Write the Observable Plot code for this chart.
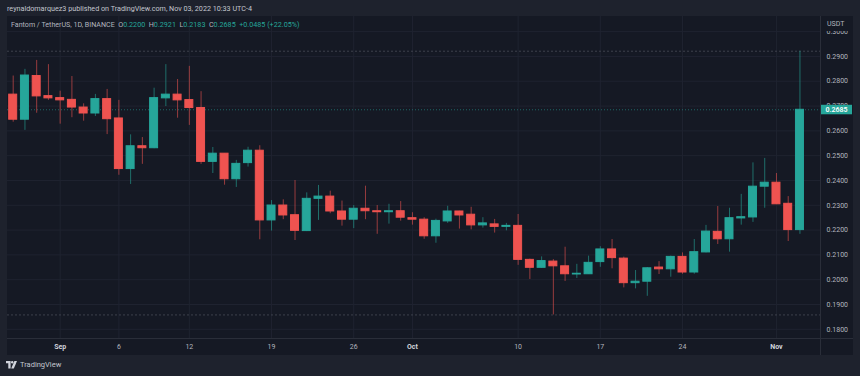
<!DOCTYPE html>
<html><head><meta charset="utf-8">
<script src="https://cdn.jsdelivr.net/npm/d3@7"></script>
<script src="https://cdn.jsdelivr.net/npm/@observablehq/plot@0.6"></script>
<style>
body{margin:0;background:#1e222d;}
#wrap{position:relative;width:860px;height:376px;overflow:hidden;font-family:Roboto,"Noto Sans",sans-serif;}
#pane{position:absolute;left:7px;top:16px;width:846px;height:339px;background:#151924;}
#chart{position:absolute;left:0;top:0;}
#vsep{position:absolute;left:820px;top:16px;width:1px;height:339px;background:#2a2e39;}
#hsep{position:absolute;left:7px;top:338px;width:846px;height:1px;background:#2a2e39;}
#head{position:absolute;left:7px;top:4px;font-size:7.2px;line-height:10px;color:#c3c6ce;white-space:nowrap;}
#legend{position:absolute;left:11px;top:20px;font-size:7.2px;line-height:10px;color:#b2b5be;white-space:nowrap;}
#legend .sym{font-size:7.1px;}
#legend .v{color:#26a69a;}
#legend .g{margin-left:3.5px;}
#usdt{position:absolute;left:821px;top:17px;width:31px;height:14px;background:#151924;font-size:7px;line-height:14px;color:#b2b5be;padding-left:6px;box-sizing:border-box;}
#logo{position:absolute;left:6px;top:360px;height:10px;font-size:7.5px;line-height:10px;color:#c3c6ce;white-space:nowrap;display:flex;align-items:center;}
#logo svg{margin-right:3px;}
</style></head><body>
<div id="wrap">
  <div id="pane"></div>
  <div id="chart"></div>
  <div id="vsep"></div>
  <div id="hsep"></div>
  <div id="head"></div>
  <div id="legend"></div>
  <div id="usdt">USDT</div>
  <div id="logo"><svg width="11" height="8" viewBox="0 0 11 8"><path d="M0 0h4.6v7.6h-2.3v-5.3h-2.3z" fill="#d1d4dc"/><circle cx="6.2" cy="1.2" r="1.2" fill="#d1d4dc"/><path d="M8.4 0h2.6l-3.2 7.6h-2.6z" fill="#d1d4dc"/></svg><span>TradingView</span></div>
</div>
<script>
// ---- data ----
const headerText = "reynaldomarquez3 published on TradingView.com, Nov 03, 2022 10:33 UTC-4";
const symbolText = "Fantom / TetherUS, 1D, BINANCE";
const quoteUnit = "USDT";
const firstDay = "2022-08-28";
const opens  = [0.2746,0.2645,0.2821,0.2740,0.2732,0.2725,0.2694,0.2670,0.2728,0.2650,
                0.2446,0.2538,0.2530,0.2731,0.2746,0.2724,0.2692,0.2475,0.2508,0.2405,
                0.2470,0.2520,0.2239,0.2299,0.2260,0.2196,0.2326,0.2335,0.2275,0.2242,
                0.2286,0.2276,0.2272,0.2276,0.2248,0.2242,0.2175,0.2235,0.2275,0.2262,
                0.2219,0.2223,0.2213,0.2217,0.2080,0.2048,0.2073,0.2054,0.2021,0.2022,
                0.2071,0.2122,0.2085,0.1986,0.1992,0.2049,0.2042,0.2092,0.2029,0.2110,
                0.2193,0.2163,0.2247,0.2251,0.2375,0.2391,0.2306,0.2200];
const highs  = [0.2821,0.2848,0.2884,0.2867,0.2760,0.2819,0.2709,0.2747,0.2767,0.2723,
                0.2584,0.2573,0.2772,0.2867,0.2807,0.2860,0.2758,0.2533,0.2508,0.2481,
                0.2534,0.2540,0.2319,0.2322,0.2400,0.2350,0.2380,0.2357,0.2317,0.2299,
                0.2377,0.2299,0.2304,0.2315,0.2270,0.2250,0.2244,0.2296,0.2276,0.2292,
                0.2250,0.2243,0.2227,0.2263,0.2083,0.2092,0.2081,0.2131,0.2062,0.2095,
                0.2133,0.2162,0.2091,0.2037,0.2049,0.2073,0.2095,0.2108,0.2162,0.2219,
                0.2295,0.2288,0.2344,0.2471,0.2489,0.2428,0.2335,0.2921];
const lows   = [0.2635,0.2602,0.2671,0.2723,0.2627,0.2653,0.2639,0.2658,0.2585,0.2421,
                0.2384,0.2465,0.2528,0.2698,0.2651,0.2622,0.2465,0.2428,0.2381,0.2372,
                0.2454,0.2161,0.2196,0.2242,0.2158,0.2194,0.2239,0.2266,0.2216,0.2206,
                0.2242,0.2183,0.2224,0.2236,0.2220,0.2163,0.2147,0.2227,0.2204,0.2201,
                0.2208,0.2188,0.2197,0.2058,0.2001,0.2046,0.1858,0.1993,0.2005,0.2021,
                0.2050,0.2044,0.1967,0.1963,0.1933,0.2021,0.2010,0.2022,0.2022,0.2108,
                0.2142,0.2111,0.2220,0.2231,0.2288,0.2303,0.2154,0.2183];
const closes = [0.2645,0.2823,0.2739,0.2731,0.2723,0.2694,0.2670,0.2728,0.2647,0.2446,
                0.2538,0.2530,0.2732,0.2746,0.2723,0.2692,0.2475,0.2508,0.2405,0.2467,
                0.2520,0.2239,0.2299,0.2259,0.2197,0.2326,0.2335,0.2275,0.2242,0.2286,
                0.2276,0.2272,0.2276,0.2250,0.2242,0.2175,0.2237,0.2275,0.2259,0.2219,
                0.2227,0.2213,0.2217,0.2080,0.2048,0.2075,0.2054,0.2022,0.2024,0.2068,
                0.2122,0.2087,0.1986,0.1992,0.2046,0.2042,0.2092,0.2029,0.2111,0.2194,
                0.2163,0.2248,0.2252,0.2375,0.2391,0.2304,0.2200,0.2685];
const priceTicks = [0.18,0.19,0.20,0.21,0.22,0.23,0.24,0.25,0.26,0.27,0.28,0.29,0.30];
const timeTicks = ["2022-09-01","2022-09-06","2022-09-12","2022-09-19","2022-09-26","2022-10-01","2022-10-10","2022-10-17","2022-10-24","2022-11-01"];
const timeTickLabels = ["Sep","6","12","19","26","Oct","10","17","24","Nov"];
const monthLabels = ["Sep","Oct","Nov"];

// ---- derived ----
const DAY = 864e5;
const UP = "#26a69a", DOWN = "#ef5350";
const t0 = Date.parse(firstDay + "T00:00:00Z");
const candles = opens.map((o, i) => ({date: new Date(t0 + i * DAY), open: o, high: highs[i], low: lows[i], close: closes[i]}));
const ups = candles.filter(d => d.close >= d.open);
const downs = candles.filter(d => d.close < d.open);
const last = candles[candles.length - 1];
const prevClose = candles[candles.length - 2].close;
const hiVis = d3.max(highs), loVis = d3.min(lows);
const tickDates = timeTicks.map(s => new Date(s + "T00:00:00Z"));
const labelOf = new Map(tickDates.map((d, i) => [+d, timeTickLabels[i]]));
const monthDates = tickDates.filter((d, i) => monthLabels.includes(timeTickLabels[i]));
const dayDates = tickDates.filter((d, i) => !monthLabels.includes(timeTickLabels[i]));
const f4 = d3.format(".4f");

// ---- header / legend ----
document.getElementById("head").textContent = headerText;
const chg = last.close - prevClose;
const pct = chg / prevClose * 100;
document.getElementById("legend").innerHTML =
  `<span class="sym">${symbolText}</span>` +
  `<span class="g">O<span class="v">${f4(last.open)}</span></span>` +
  `<span class="g">H<span class="v">${f4(last.high)}</span></span>` +
  `<span class="g">L<span class="v">${f4(last.low)}</span></span>` +
  `<span class="g">C<span class="v">${f4(last.close)}</span></span>` +
  `<span class="g v">${chg >= 0 ? "+" : ""}${f4(chg)} (${pct >= 0 ? "+" : ""}${pct.toFixed(2)}%)</span>`;

const halfBody = 0.34 * DAY;
const bodyX1 = d => new Date(+d.date - halfBody);
const bodyX2 = d => new Date(+d.date + halfBody);

function priceLabel(index, scales, values, dimensions) {
  const ns = "http://www.w3.org/2000/svg";
  const y = scales.y(last.close);
  const x0 = dimensions.width - dimensions.marginRight + 1;
  const g = document.createElementNS(ns, "g");
  const r = document.createElementNS(ns, "rect");
  r.setAttribute("x", x0); r.setAttribute("y", y - 4.5);
  r.setAttribute("width", 31); r.setAttribute("height", 9.5);
  r.setAttribute("fill", UP);
  const t = document.createElementNS(ns, "text");
  t.setAttribute("x", x0 + 15.5); t.setAttribute("y", y + 2.5);
  t.setAttribute("text-anchor", "middle");
  t.setAttribute("fill", "#ffffff");
  t.setAttribute("font-size", "7px");
  t.setAttribute("font-weight", "600");
  t.textContent = f4(last.close);
  g.appendChild(r); g.appendChild(t);
  return g;
}

const chart = Plot.plot({
  width: 860,
  height: 376,
  marginLeft: 7,
  marginRight: 40,
  marginTop: 16,
  marginBottom: 38,
  style: {background: "transparent", color: "#b2b5be", fontFamily: "Roboto, 'Noto Sans', sans-serif", fontSize: "7px"},
  x: {type: "utc", domain: [new Date(t0 - 0.485 * DAY), new Date(+last.date + 1.75 * DAY)], axis: null},
  y: {domain: [0.1763, 0.3061], axis: null},
  marks: [
    Plot.ruleY(priceTicks, {stroke: "#1f2330"}),
    Plot.ruleX(tickDates, {stroke: "#1f2330"}),
    Plot.ruleY([hiVis, loVis], {stroke: "#3d414c", strokeDasharray: "2 2"}),
    Plot.ruleY([last.close], {stroke: UP, strokeOpacity: 0.55, strokeDasharray: "1 2"}),
    Plot.ruleX(ups, {x: "date", y1: "low", y2: "high", stroke: UP, strokeOpacity: 0.6}),
    Plot.ruleX(downs, {x: "date", y1: "low", y2: "high", stroke: DOWN, strokeOpacity: 0.6}),
    Plot.rect(ups, {x1: bodyX1, x2: bodyX2, y1: "open", y2: "close", fill: UP, stroke: UP, strokeWidth: 1}),
    Plot.rect(downs, {x1: bodyX1, x2: bodyX2, y1: "open", y2: "close", fill: DOWN, stroke: DOWN, strokeWidth: 1}),
    Plot.axisY(priceTicks, {anchor: "right", tickSize: 0, tickPadding: 6, tickFormat: f4, label: null, color: "#b2b5be", fontSize: 7}),
    Plot.axisX(dayDates, {anchor: "bottom", tickSize: 0, tickPadding: 6, tickFormat: d => labelOf.get(+d), label: null, color: "#b2b5be", fontSize: 7}),
    Plot.axisX(monthDates, {anchor: "bottom", tickSize: 0, tickPadding: 6, tickFormat: d => labelOf.get(+d), label: null, color: "#d1d4dc", fontSize: 7, fontWeight: "bold"}),
    priceLabel
  ]
});
document.getElementById("chart").appendChild(chart);
</script>
</body></html>
